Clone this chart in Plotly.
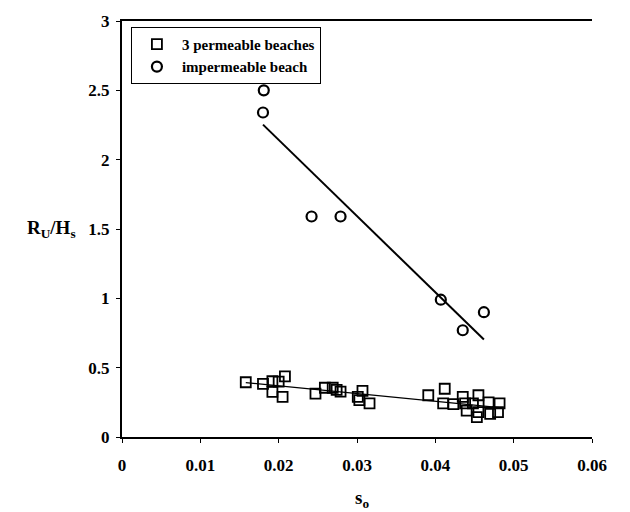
import numpy as np
import plotly.graph_objects as go

# Data
perm_x = [0.0158, 0.0180, 0.0192, 0.0200, 0.0208, 0.0192, 0.0205, 0.0247, 0.0259, 0.0269,
          0.0279, 0.0274, 0.0307, 0.0301, 0.0303, 0.0316, 0.0391, 0.0412, 0.0410, 0.0423,
          0.0435, 0.0438, 0.0440, 0.0455, 0.0453, 0.0455, 0.0468, 0.0470, 0.0482, 0.0480,
          0.0448]
perm_y = [0.395, 0.383, 0.402, 0.400, 0.437, 0.325, 0.289, 0.313, 0.355, 0.355,
          0.327, 0.340, 0.332, 0.289, 0.266, 0.242, 0.301, 0.348, 0.242, 0.237,
          0.289, 0.242, 0.190, 0.301, 0.143, 0.179, 0.249, 0.167, 0.242, 0.179,
          0.242]

imp_x = [0.0181, 0.0180, 0.0242, 0.0279, 0.0407, 0.0462, 0.0435]
imp_y = [2.50, 2.34, 1.59, 1.59, 0.99, 0.90, 0.77]

x_ticks = [0, 0.01, 0.02, 0.03, 0.04, 0.05, 0.06]
x_tick_text = ["0", "0.01", "0.02", "0.03", "0.04", "0.05", "0.06"]
y_ticks = [0, 0.5, 1, 1.5, 2, 2.5, 3]
y_tick_text = ["0", "0.5", "1", "1.5", "2", "2.5", "3"]

FONT = "Liberation Serif"


def fit_line(x, y):
    k, b = np.polyfit(x, y, 1)
    xs = np.array([min(x), max(x)])
    return xs, k * xs + b


fig = go.Figure()

px_, py_ = fit_line(perm_x, perm_y)
ix_, iy_ = fit_line(imp_x, imp_y)

fig.add_trace(go.Scatter(x=px_, y=py_, mode="lines", line=dict(color="black", width=1.2),
                         showlegend=False, hoverinfo="skip"))
fig.add_trace(go.Scatter(x=ix_, y=iy_, mode="lines", line=dict(color="black", width=2),
                         showlegend=False, hoverinfo="skip"))

fig.add_trace(go.Scatter(
    x=perm_x, y=perm_y, mode="markers", name="3 permeable beaches",
    marker=dict(symbol="square-open", size=10, color="black", line=dict(width=1.8, color="black")),
))
fig.add_trace(go.Scatter(
    x=imp_x, y=imp_y, mode="markers", name="impermeable beach",
    marker=dict(symbol="circle-open", size=10, color="black", line=dict(width=2.2, color="black")),
))

tickfont = dict(family=FONT, size=17, color="black", weight="bold")

fig.update_layout(
    width=630, height=512,
    margin=dict(l=122, r=38, t=12, b=75),
    paper_bgcolor="white", plot_bgcolor="white",
    font=dict(family=FONT, color="black"),
    legend=dict(
        x=0.019, y=0.986, xanchor="left", yanchor="top",
        bgcolor="white", bordercolor="black", borderwidth=1,
        font=dict(family=FONT, size=15, color="black", weight="bold"),
        itemwidth=40, tracegroupgap=0,
    ),
    xaxis=dict(
        range=[0, 0.06], tickvals=x_ticks, ticktext=["<b>%s</b>" % t for t in x_tick_text],
        showgrid=False, zeroline=False, showline=True, linecolor="black", linewidth=2,
        mirror=True, ticks="outside", ticklen=4, tickcolor="black",
        tickfont=tickfont, ticklabelstandoff=8,
    ),
    yaxis=dict(
        range=[0, 3], tickvals=y_ticks, ticktext=["<b>%s</b>" % t for t in y_tick_text],
        showgrid=False, zeroline=False, showline=True, linecolor="black", linewidth=2,
        ticks="outside", ticklen=4, tickcolor="black",
        tickfont=tickfont, ticklabelstandoff=3,
    ),
    annotations=[
        dict(text="<b>R<sub>U</sub>/H<sub>s</sub></b>", xref="paper", yref="paper",
             x=-0.15, y=0.5, xanchor="center", yanchor="middle", showarrow=False,
             font=dict(family=FONT, size=19, color="black", weight="bold")),
        dict(text="<b>s<sub>o</sub></b>", xref="paper", yref="paper",
             x=0.51, y=-0.115, xanchor="center", yanchor="top", showarrow=False,
             font=dict(family=FONT, size=19, color="black", weight="bold")),
    ],
)

fig.write_html("out.html")
